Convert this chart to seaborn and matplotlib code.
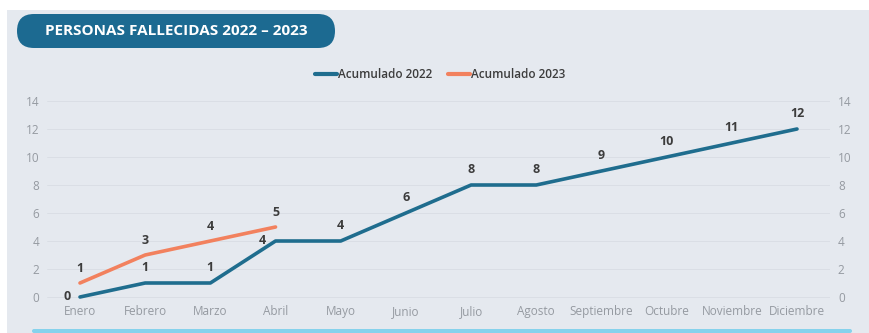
import matplotlib
matplotlib.use("Agg")
import matplotlib.pyplot as plt
from matplotlib.patches import FancyBboxPatch, Rectangle
import pandas as pd
import numpy as np
import seaborn as sns

meses = ["Enero", "Febrero", "Marzo", "Abril", "Mayo", "Junio", "Julio",
         "Agosto", "Septiembre", "Octubre", "Noviembre", "Diciembre"]
acum_2022 = [0, 1, 1, 4, 4, 6, 8, 8, 9, 10, 11, 12]
acum_2023 = [1, 3, 4, 5]

c2022 = "#1f6d8e"
c2023 = "#f2815e"
bg = "#e5e9ef"

df = pd.concat([
    pd.DataFrame({"mes": meses, "x": range(len(meses)), "valor": acum_2022, "serie": "Acumulado 2022"}),
    pd.DataFrame({"mes": meses[:len(acum_2023)], "x": range(len(acum_2023)), "valor": acum_2023, "serie": "Acumulado 2023"}),
])

sns.set_style("white")
plt.rcParams["font.family"] = ["Open Sans", "DejaVu Sans"]

fig = plt.figure(figsize=(8.7, 3.33), dpi=100, facecolor="white")

# decoration layer in pixel coordinates
deco = fig.add_axes([0, 0, 1, 1], zorder=0)
deco.set_xlim(0, 870)
deco.set_ylim(333, 0)
deco.axis("off")
deco.add_patch(Rectangle((7, 10), 863, 323, facecolor=bg, edgecolor="none"))
deco.add_patch(FancyBboxPatch((32, 329), 820, 4, boxstyle="round,pad=0,rounding_size=2",
                              facecolor="#86d2ec", edgecolor="none"))
deco.add_patch(FancyBboxPatch((17, 14), 318, 34, boxstyle="round,pad=0,rounding_size=17",
                              facecolor="#1c6a91", edgecolor="none"))
deco.text(176, 31, "PERSONAS FALLECIDAS 2022 – 2023", color="white",
          fontsize=11, fontweight="bold", ha="center", va="center")

ax = fig.add_axes([47.4/870, 29/333, 782.2/870, 210/333], zorder=2)
ax.set_facecolor("none")

sns.lineplot(data=df, x="x", y="valor", hue="serie", palette=[c2022, c2023],
             linewidth=2.6, ax=ax, legend=True, solid_capstyle="round", zorder=3)

ax.set_xlim(-0.5, 11.5)
ax.set_ylim(-0.5, 14.5)
ax.set_xticks(range(len(meses)))
ax.set_xticklabels(meses)
ax.set_yticks(range(0, 15, 2))
ax.tick_params(axis="both", length=0, labelsize=8.5, labelcolor="#959aa1")
ax.tick_params(axis="y", labelright=True, pad=6)
ax.tick_params(axis="x", pad=1)
ax.grid(axis="y", color="#d8dde4", linewidth=0.6)
for s in ax.spines.values():
    s.set_visible(False)
ax.set_xlabel("")
ax.set_ylabel("")

lab = dict(fontsize=9, fontweight="bold", color="#3c3c3c", ha="center", va="center", zorder=5)
for i, v in enumerate(acum_2022):
    if i == 0:
        ax.text(i - 0.2, v + 0.05, str(v), **lab)
    elif i == 3:
        ax.text(i - 0.2, v + 0.0, str(v), **lab)
    else:
        ax.text(i, v + 1.1, str(v), **lab)
for i, v in enumerate(acum_2023):
    ax.text(i, v + 1.05, str(v), **lab)

leg = ax.legend(loc="center", bbox_to_anchor=(440/870, 1 - 75/333), bbox_transform=fig.transFigure,
                ncol=2, frameon=False, fontsize=8.5, handlelength=1.9, handletextpad=0.05,
                columnspacing=1.3, labelcolor="#3c3c3c", prop={"weight": "semibold", "size": 8.5})
for h in leg.get_lines():
    h.set_linewidth(3)

fig.savefig("out.png", dpi=100, facecolor="white")
